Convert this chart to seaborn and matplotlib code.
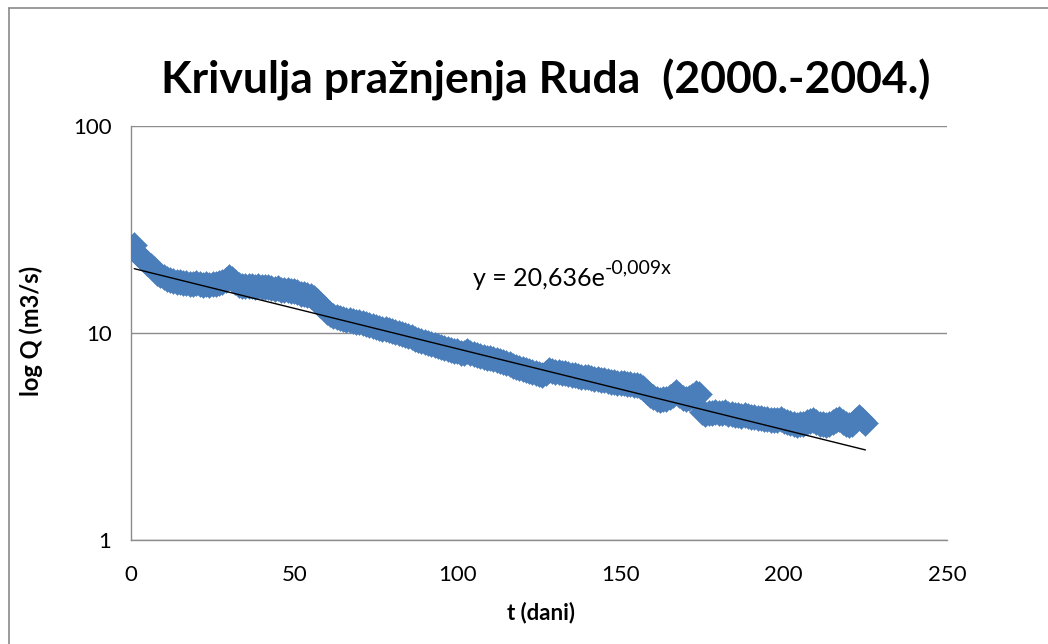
import numpy as np
import pandas as pd
import seaborn as sns
import matplotlib
matplotlib.use("Agg")
import matplotlib.pyplot as plt
from matplotlib.lines import Line2D

# Recession data: day index and mean daily discharge (m3/s)
days = list(range(1, 226))
discharge = [
    26.5, 24.2, 23.3, 22.6, 21.7, 21.0, 20.3, 19.6, 19.1, 18.7,
    18.3, 18.0, 17.8, 17.6, 17.6, 17.4, 17.5, 17.3, 17.2, 17.4,
    17.3, 17.1, 17.2, 17.0, 17.2, 17.3, 17.4, 17.7, 18.1, 18.6,
    18.2, 17.6, 17.1, 16.9, 16.8, 16.9, 16.8, 16.7, 16.8, 16.7,
    16.6, 16.7, 16.5, 16.4, 16.5, 16.2, 16.1, 16.2, 16.0, 15.9,
    15.7, 15.5, 15.4, 15.3, 15.1, 14.8, 14.3, 13.7, 13.2, 12.7,
    12.4, 12.1, 11.9, 11.8, 11.7, 11.6, 11.6, 11.4, 11.3, 11.3,
    11.2, 11.1, 10.9, 10.8, 10.7, 10.6, 10.5, 10.4, 10.3, 10.2,
    10.1, 10.0, 9.9, 9.8, 9.7, 9.55, 9.35, 9.2, 9.1, 9.05,
    8.95, 8.85, 8.75, 8.65, 8.55, 8.45, 8.35, 8.3, 8.2, 8.15,
    8.05, 8.0, 8.15, 8.05, 7.9, 7.85, 7.75, 7.65, 7.6, 7.55,
    7.45, 7.4, 7.33, 7.25, 7.15, 7.05, 6.95, 6.88, 6.8, 6.72,
    6.65, 6.55, 6.45, 6.38, 6.32, 6.3, 6.42, 6.6, 6.55, 6.5,
    6.45, 6.42, 6.38, 6.35, 6.3, 6.25, 6.2, 6.15, 6.12, 6.1,
    6.05, 6.02, 6.0, 5.95, 5.9, 5.85, 5.8, 5.78, 5.75, 5.73,
    5.72, 5.7, 5.65, 5.62, 5.58, 5.52, 5.4, 5.2, 5.02, 4.88,
    4.78, 4.75, 4.78, 4.82, 4.9, 5.0, 5.18, 5.02, 4.85, 4.78,
    4.85, 4.98, 5.15, 5.05, 4.15, 4.05, 4.1, 4.12, 4.15, 4.12,
    4.1, 4.15, 4.08, 4.05, 4.02, 4.0, 3.98, 4.02, 3.97, 3.95,
    3.93, 3.9, 3.88, 3.86, 3.84, 3.82, 3.78, 3.8, 3.84, 3.75,
    3.7, 3.66, 3.62, 3.6, 3.62, 3.65, 3.7, 3.74, 3.82, 3.7,
    3.64, 3.62, 3.6, 3.63, 3.7, 3.78, 3.86, 3.72, 3.62, 3.58,
    3.62, 3.78, 3.92, 3.8, 3.66,
]

# Exponential trend Q = a * exp(b * t)
trend_a = 20.636
trend_b = -0.009

title = "Krivulja pražnjenja Ruda  (2000.-2004.)"
x_label = "t (dani)"
y_label = "log Q (m3/s)"
x_ticks = [0, 50, 100, 150, 200, 250]
y_ticks = [1, 10, 100]
y_tick_labels = ["1", "10", "100"]
eq_main = "y = 20,636e"
eq_exp = "-0,009x"

df = pd.DataFrame({"t": days, "Q": discharge})
trend = pd.DataFrame({"t": days,
                      "Q": trend_a * np.exp(trend_b * np.array(days, dtype=float))})

sns.set_theme(style="white")
plt.rcParams["font.family"] = ["Lato", "DejaVu Sans"]

W, H = 1048, 644
fig = plt.figure(figsize=(W / 100, H / 100), dpi=100)
fig.patch.set_facecolor("white")

ax = fig.add_axes([131 / W, (H - 540) / H, 816 / W, 414 / H])

point_color = "#4a7ebb"
grid_color = "#8c8c8c"

sns.scatterplot(data=df, x="t", y="Q", marker="D", s=175, color=point_color,
                edgecolor=point_color, linewidth=0.3, ax=ax, legend=False,
                zorder=3)
sns.lineplot(data=trend, x="t", y="Q", color="black", linewidth=1.0, ax=ax,
             legend=False, zorder=4)

ax.set_yscale("log")
ax.set_xlim(0, 250)
ax.set_ylim(1, 100)
ax.set_xticks(x_ticks)
ax.set_xticklabels([str(v) for v in x_ticks])
ax.set_yticks(y_ticks)
ax.set_yticklabels(y_tick_labels)
ax.yaxis.set_minor_locator(matplotlib.ticker.NullLocator())

ax.yaxis.grid(True, color=grid_color, linewidth=1.0)
ax.xaxis.grid(False)
ax.set_axisbelow(True)

for side in ("top", "right"):
    ax.spines[side].set_visible(False)
for side in ("left", "bottom"):
    ax.spines[side].set_color(grid_color)
    ax.spines[side].set_linewidth(1.0)

ax.tick_params(axis="both", which="major", direction="out", length=6,
               width=1.0, color=grid_color, labelsize=16, labelcolor="black")
ax.tick_params(axis="x", pad=12)
ax.tick_params(axis="y", pad=8)

ax.set_xlabel(x_label, fontsize=16, fontweight="bold", color="black")
ax.set_ylabel(y_label, fontsize=17, fontweight="bold", color="black")
ax.xaxis.set_label_coords((541 - 131) / 816, (540 - 602) / 414)
ax.yaxis.set_label_coords((43 - 131) / 816, (540 - 331) / 414)

# Trend equation with superscripted exponent
eq = ax.text((473 - 131) / 816, (540 - 286) / 414, eq_main,
             transform=ax.transAxes, fontsize=18, ha="left", va="baseline",
             color="black")
ax.annotate(eq_exp, xy=(1.0, 0.6), xycoords=eq, fontsize=14,
            ha="left", va="bottom", color="black")

fig.text(546 / W, (H - 80) / H, title, ha="center", va="center",
         fontsize=32, fontweight="bold", color="black")

# Chart-area frame (left and top edges)
frame_kw = dict(color="#8a8a8a", linewidth=1.2, transform=fig.transFigure)
fig.add_artist(Line2D([8.5 / W, 8.5 / W], [0, (H - 7.5) / H], **frame_kw))
fig.add_artist(Line2D([8.5 / W, 1.0], [(H - 7.5) / H, (H - 7.5) / H], **frame_kw))

fig.savefig("out.png", dpi=100, facecolor="white")
